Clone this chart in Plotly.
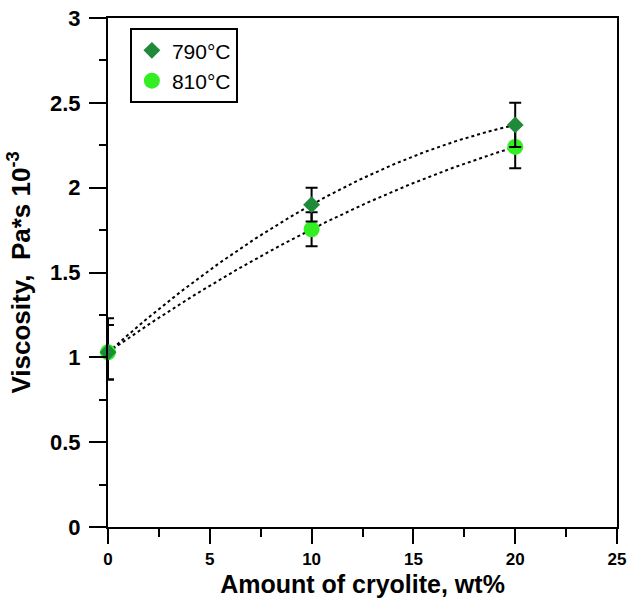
import numpy as np
import plotly.graph_objects as go

cryolite = [0, 10, 20]
visc_790 = [1.03, 1.90, 2.37]
err_790_plus = [0.20, 0.10, 0.13]
err_790_minus = [0.16, 0.10, 0.13]
visc_810 = [1.03, 1.755, 2.24]
err_810 = [0.16, 0.10, 0.125]

x_ticks = [0, 5, 10, 15, 20, 25]
x_ticktext = ["0", "5", "10", "15", "20", "25"]
y_ticks = [0, 0.5, 1, 1.5, 2, 2.5, 3]
y_ticktext = ["0", "0.5", "1", "1.5", "2", "2.5", "3"]

FONT = "Liberation Sans, Arial, sans-serif"
C790 = "#1f8a3a"
C810 = "#33ee22"

fig = go.Figure()

# fitted trend curves (2nd order polynomial through the data)
xs = np.linspace(0, 20, 200)
for ys in (visc_790, visc_810):
    coef = np.polyfit(cryolite, ys, 2)
    fig.add_trace(go.Scatter(x=xs, y=np.polyval(coef, xs), mode="lines",
                             line=dict(color="black", width=2, dash="dot"),
                             showlegend=False, hoverinfo="skip"))

fig.add_trace(go.Scatter(
    x=cryolite, y=visc_810, mode="markers", name="810°C",
    marker=dict(symbol="circle", size=16, color=C810),
    error_y=dict(type="data", array=err_810, color="black", thickness=2, width=6),
    cliponaxis=False))
fig.add_trace(go.Scatter(
    x=cryolite, y=visc_790, mode="markers", name="790°C",
    marker=dict(symbol="diamond", size=13, color=C790),
    error_y=dict(type="data", array=err_790_plus, arrayminus=err_790_minus,
                 color="black", thickness=2, width=6),
    cliponaxis=False))

fig.update_layout(
    width=628, height=600,
    margin=dict(l=108, r=11, t=18, b=73),
    paper_bgcolor="white", plot_bgcolor="white",
    font=dict(family=FONT, color="black"),
    legend=dict(x=0.043, y=0.98, xanchor="left", yanchor="top",
                bordercolor="black", borderwidth=2, bgcolor="white",
                font=dict(size=21, family=FONT), traceorder="reversed",
                itemsizing="trace"),
    xaxis=dict(range=[0, 25], tickvals=x_ticks, ticktext=["<b>%s</b>" % t for t in x_ticktext],
               ticks="outside", ticklen=15, automargin=False,
               tickwidth=2, tickcolor="black",
               minor=dict(dtick=2.5, ticks="outside", ticklen=8, tickwidth=2, tickcolor="black"),
               showline=True, linecolor="black", linewidth=2, mirror=True,
               showgrid=False, zeroline=False,
               ticklabelstandoff=1,
               tickfont=dict(size=17, family=FONT, weight="bold"),
               title=dict(text="<b>Amount of cryolite, wt%</b>", font=dict(size=25, family=FONT),
                          standoff=7)),
    yaxis=dict(range=[0, 3], tickvals=y_ticks, ticktext=["<b>%s</b>" % t for t in y_ticktext],
               ticks="outside", ticklen=17, automargin=False,
               tickwidth=2, tickcolor="black",
               minor=dict(dtick=0.25, ticks="outside", ticklen=7, tickwidth=2, tickcolor="black"),
               showline=True, linecolor="black", linewidth=2, mirror=True,
               showgrid=False, zeroline=False,
               ticklabelstandoff=4,
               tickfont=dict(size=22, family=FONT, weight="bold"),
               title=dict(text="<b>Viscosity,  Pa*s 10<sup>-3</sup></b>", font=dict(size=26, family=FONT),
                          standoff=12)),
)

fig.write_html("out.html")
